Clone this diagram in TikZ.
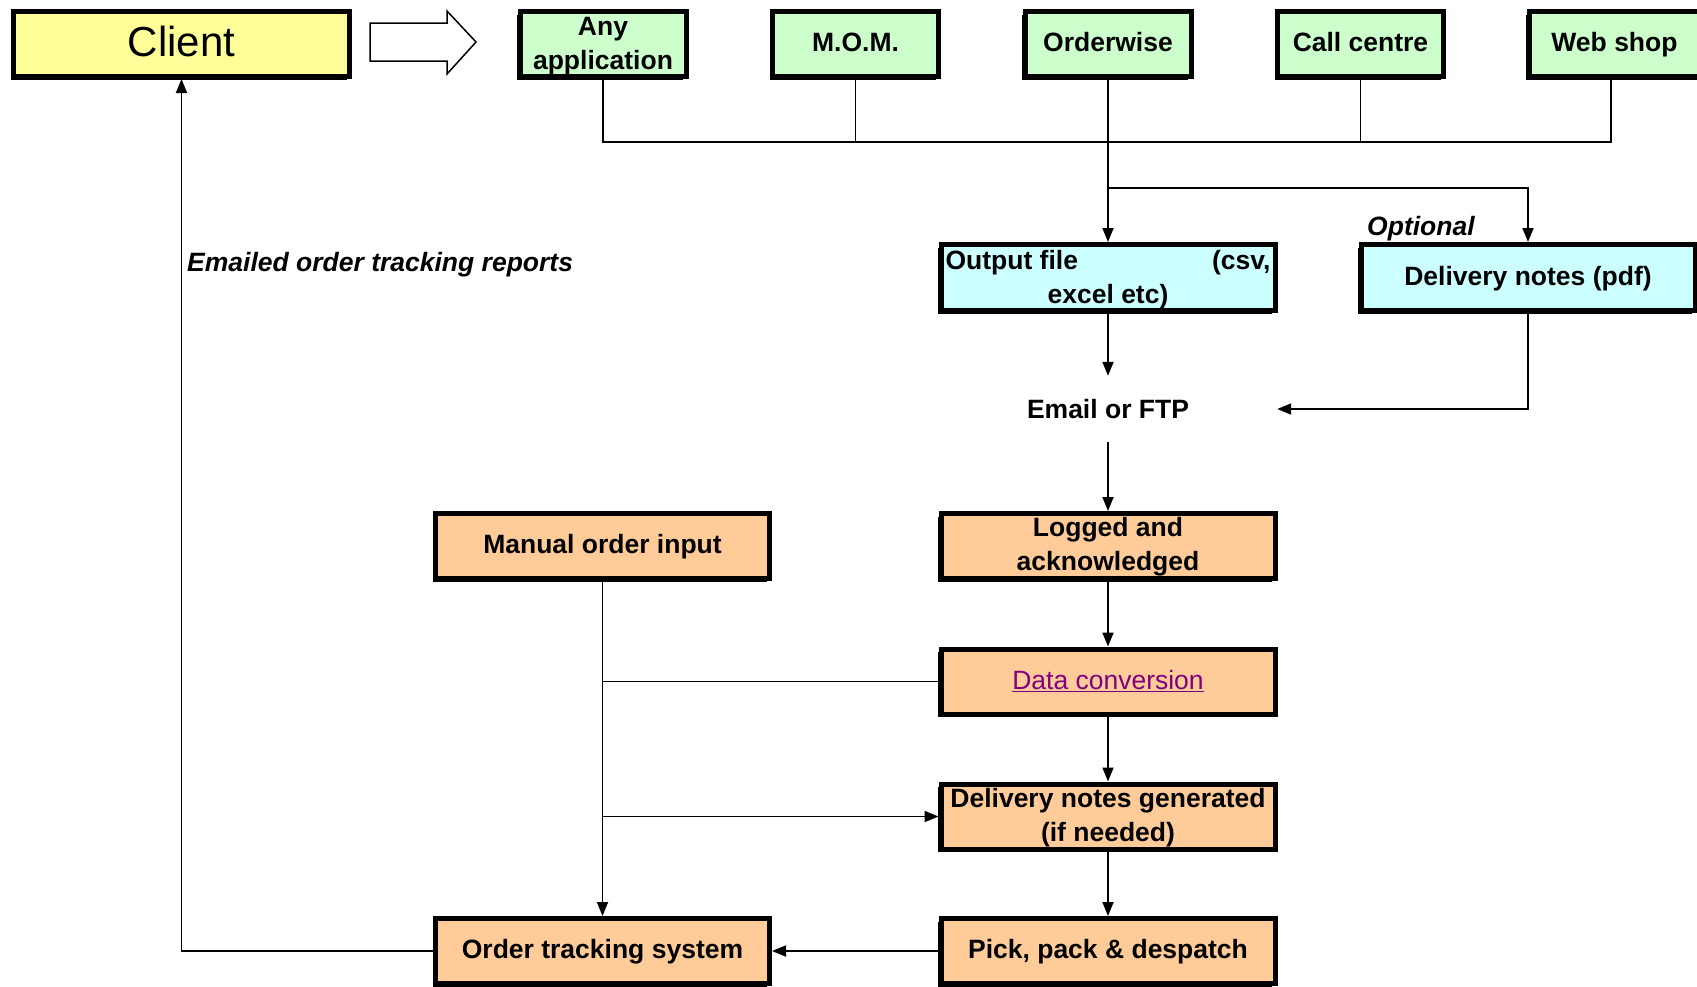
\documentclass[tikz,border=0pt]{standalone}
\usepackage{fontspec}
\setmainfont{Liberation Sans}
\usetikzlibrary{arrows.meta,shadows}
\definecolor{clientyellow}{HTML}{FFFF99}
\definecolor{appgreen}{HTML}{CCFFCC}
\definecolor{filecyan}{HTML}{CCFFFF}
\definecolor{procorange}{HTML}{FFCC99}
\definecolor{linkpurple}{HTML}{800080}
\newcommand{\toprule}[1]{\rule{0pt}{#1}}
\begin{document}
\begin{tikzpicture}[x=1pt,y=-1pt,
 box/.style={draw=black, line width=5pt, inner sep=0pt, align=center,
   font=\fontsize{26.5}{34}\selectfont\bfseries,
   general shadow={fill=black, shadow xshift=-3pt, shadow yshift=-3pt}},
 single/.style={text height=20pt, text depth=4.2pt},
 appbox/.style={box, fill=appgreen, minimum width=166pt, minimum height=65pt},
 filebox/.style={box, fill=filecyan, minimum width=334pt, minimum height=66pt},
 procbox/.style={box, fill=procorange, minimum width=334pt, minimum height=65pt},
 conn/.style={draw=black, line width=1.8pt},
 arr/.style={conn, -{Triangle[length=14pt,width=11pt]}},
 lbl/.style={font=\fontsize{26.5}{34}\selectfont\bfseries\itshape, inner sep=0pt}]

\useasboundingbox (0,0) rectangle (1697,986);
\fill[white] (0,0) rectangle (1697,986);

% top row
\node[box, fill=clientyellow, minimum width=336pt, minimum height=65pt,
      font=\fontsize{42}{48}\selectfont, text height=30pt, text depth=5.4pt] (client) at (181.5,44) {Client};
\draw[line width=1.5pt, fill=white] (370,23) -- (447,23) -- (447,11) -- (476,42)
      -- (447,74) -- (447,61) -- (370,61) -- cycle;
\node[appbox] (any) at (603,44) {\toprule{21.5pt}Any\\application};
\node[appbox, single] (mom) at (855.5,44) {M.O.M.};
\node[appbox, single] (ow) at (1108,44) {Orderwise};
\node[appbox, single] (call) at (1360.5,44) {Call centre};
\node[appbox, single, minimum width=171pt] (web) at (1614.5,44) {Web shop};

% files
\node[filebox] (out) at (1108,277.5) {\toprule{23.5pt}\makebox[325pt]{Output file\hfill(csv,}\\excel etc)};
\node[filebox, single] (dn) at (1528,277.5) {Delivery notes (pdf)};
\node[lbl, anchor=base west] (opt) at (1367,235) {Optional};
\node[inner sep=0pt, minimum width=338pt, minimum height=66pt,
      font=\fontsize{26.5}{34}\selectfont\bfseries] (email) at (1108,409) {Email or FTP};

% process
\node[procbox] (logged) at (1108,546) {\toprule{21.5pt}Logged and\\acknowledged};
\node[procbox, single] (manual) at (602.5,546) {Manual order input};
\node[procbox, single] (dc) at (1108,681.5) {\mdseries\textcolor{linkpurple}{\underline{Data conversion}}};
\node[procbox] (dg) at (1108,816.5) {\toprule{21.5pt}Delivery notes generated\\(if needed)};
\node[procbox, single] (pick) at (1108,951) {Pick, pack \& despatch};
\node[procbox, single] (track) at (602.5,951) {Order tracking system};

\node[lbl, anchor=base west] (emailed) at (187,271) {Emailed order tracking reports};

% connectors
\coordinate (bus) at (0,142);
\coordinate (split) at (0,188);
\coordinate (webdrop) at (1611,0);
\draw[conn] (any.south) -- (any.south |- bus) -- (webdrop |- bus) -- (webdrop |- web.south);
\draw[conn] (mom.south) -- (mom.south |- bus);
\draw[conn] (call.south) -- (call.south |- bus);
\draw[arr] (ow.south) -- (out.north);
\draw[arr] (ow.south |- split) -| (dn.north);
\draw[arr] (out.south) -- (email.north);
\draw[arr] (dn.south) |- (email.east);
\draw[arr] (email.south) -- (logged.north);
\draw[arr] (logged.south) -- (dc.north);
\draw[arr] (dc.south) -- (dg.north);
\draw[arr] (dg.south) -- (pick.north);
\draw[arr] (manual.south) -- (track.north);
\draw[conn] (dc.west) -- (dc.west -| manual.south);
\draw[arr] (manual.south |- dg.west) -- (dg.west);
\draw[arr] (pick.west) -- (track.east);
\draw[arr] (track.west) -| (client.south);
\end{tikzpicture}
\end{document}
